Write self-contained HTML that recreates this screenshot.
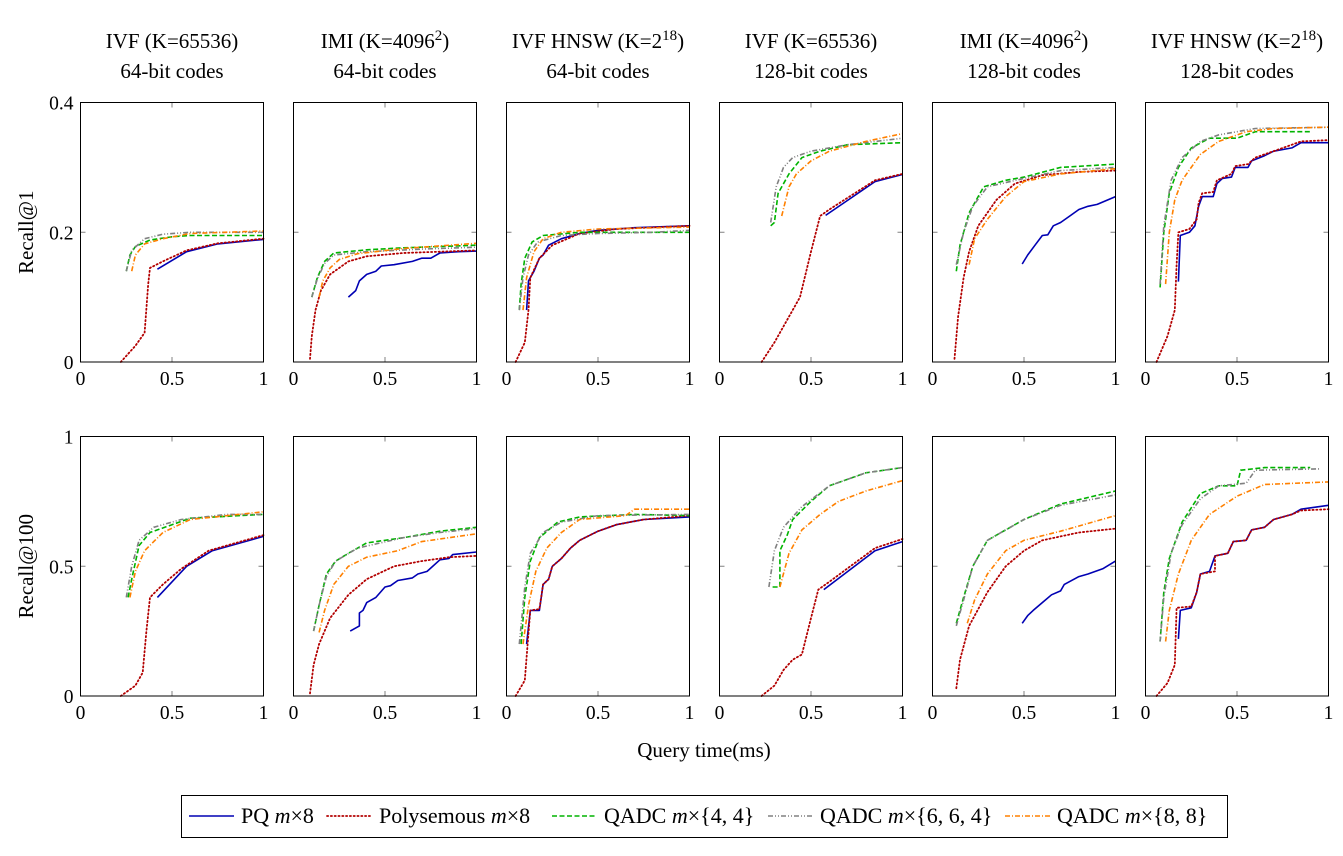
<!DOCTYPE html>
<html><head><meta charset="utf-8">
<style>
body{margin:0;background:#fff;}
svg text{font-family:"Liberation Serif",serif;fill:#000;}
</style></head>
<body>
<svg id="chart" width="1343" height="851" viewBox="0 0 1343 851" xmlns="http://www.w3.org/2000/svg"></svg>
<script>
const panelTitles1 = ["IVF (K=65536)","IMI (K=4096","IVF HNSW (K=2","IVF (K=65536)","IMI (K=4096","IVF HNSW (K=2"];
const panelTitleSups = ["","2","18","","2","18"];
const panelTitles2 = ["64-bit codes","64-bit codes","64-bit codes","128-bit codes","128-bit codes","128-bit codes"];
const seriesNames = ["PQ m×8","Polysemous m×8","QADC m×{4, 4}","QADC m×{6, 6, 4}","QADC m×{8, 8}"];
const xTicks = [0,0.5,1];
const xTickLabels = ["0","0.5","1"];
const yTicksTop = [0,0.2,0.4];
const yTickLabelsTop = ["0","0.2","0.4"];
const yTicksBot = [0,0.5,1];
const yTickLabelsBot = ["0","0.5","1"];

const pqTop = [
 [[0.42,0.143],[0.58,0.17],[0.75,0.182],[1,0.189]],
 [[0.3,0.1],[0.34,0.11],[0.36,0.125],[0.4,0.135],[0.45,0.14],[0.48,0.148],[0.55,0.15],[0.65,0.155],[0.7,0.16],[0.75,0.16],[0.8,0.168],[0.9,0.17],[1,0.171]],
 [[0.11,0.08],[0.12,0.125],[0.15,0.14],[0.18,0.16],[0.2,0.165],[0.23,0.18],[0.3,0.19],[0.4,0.198],[0.5,0.203],[0.7,0.207],[1,0.21]],
 [[0.58,0.226],[0.85,0.278],[1,0.289]],
 [[0.49,0.151],[0.52,0.165],[0.56,0.18],[0.6,0.195],[0.63,0.196],[0.66,0.21],[0.7,0.215],[0.75,0.225],[0.8,0.235],[0.85,0.24],[0.9,0.243],[1,0.255]],
 [[0.18,0.124],[0.19,0.195],[0.24,0.2],[0.27,0.21],[0.29,0.24],[0.31,0.255],[0.37,0.255],[0.39,0.275],[0.42,0.283],[0.47,0.285],[0.49,0.3],[0.56,0.3],[0.58,0.31],[0.65,0.318],[0.7,0.325],[0.8,0.33],[0.85,0.338],[1,0.338]]
];
const polyTop = [
 [[0.22,0],[0.3,0.025],[0.35,0.045],[0.37,0.12],[0.38,0.145],[0.45,0.155],[0.58,0.172],[0.75,0.183],[1,0.19]],
 [[0.09,0.005],[0.1,0.04],[0.12,0.08],[0.15,0.11],[0.2,0.135],[0.3,0.155],[0.4,0.163],[0.6,0.168],[0.8,0.17],[1,0.172]],
 [[0.05,0],[0.1,0.03],[0.12,0.08],[0.13,0.13],[0.18,0.16],[0.25,0.18],[0.4,0.198],[0.6,0.205],[1,0.21]],
 [[0.23,0],[0.3,0.03],[0.4,0.08],[0.44,0.1],[0.5,0.17],[0.55,0.225],[0.6,0.235],[0.85,0.28],[1,0.29]],
 [[0.12,0.005],[0.14,0.07],[0.17,0.13],[0.2,0.17],[0.25,0.21],[0.35,0.25],[0.45,0.275],[0.6,0.288],[0.8,0.293],[1,0.295]],
 [[0.06,0],[0.12,0.04],[0.16,0.08],[0.17,0.15],[0.18,0.2],[0.24,0.205],[0.28,0.22],[0.29,0.245],[0.31,0.26],[0.37,0.262],[0.39,0.28],[0.47,0.29],[0.49,0.302],[0.56,0.305],[0.6,0.315],[0.7,0.325],[0.8,0.335],[0.85,0.34],[1,0.342]]
];
const q44Top = [
 [[0.25,0.14],[0.27,0.165],[0.3,0.178],[0.38,0.188],[0.5,0.193],[0.6,0.195],[1,0.195]],
 [[0.1,0.1],[0.13,0.13],[0.17,0.155],[0.22,0.168],[0.4,0.173],[0.6,0.176],[1,0.18]],
 [[0.07,0.08],[0.08,0.12],[0.1,0.16],[0.14,0.185],[0.2,0.195],[0.4,0.2],[0.6,0.2],[1,0.2]],
 [[0.28,0.21],[0.3,0.215],[0.32,0.26],[0.38,0.29],[0.45,0.315],[0.55,0.325],[0.7,0.335],[1,0.338]],
 [[0.13,0.14],[0.15,0.18],[0.2,0.23],[0.28,0.27],[0.4,0.28],[0.5,0.285],[0.7,0.3],[1,0.305]],
 [[0.08,0.115],[0.1,0.2],[0.13,0.26],[0.18,0.3],[0.25,0.33],[0.35,0.345],[0.5,0.345],[0.6,0.355],[0.9,0.355]]
];
const q664Top = [
 [[0.25,0.14],[0.28,0.172],[0.35,0.19],[0.45,0.197],[0.6,0.2],[1,0.2]],
 [[0.1,0.1],[0.13,0.128],[0.17,0.152],[0.22,0.165],[0.4,0.17],[0.7,0.174],[1,0.177]],
 [[0.07,0.08],[0.09,0.13],[0.12,0.165],[0.17,0.185],[0.3,0.195],[0.5,0.198],[0.8,0.2],[1,0.203]],
 [[0.28,0.215],[0.31,0.27],[0.35,0.3],[0.4,0.315],[0.5,0.325],[0.7,0.335],[1,0.345]],
 [[0.13,0.15],[0.17,0.2],[0.22,0.24],[0.3,0.27],[0.5,0.283],[0.7,0.295],[1,0.3]],
 [[0.08,0.12],[0.1,0.21],[0.14,0.28],[0.2,0.315],[0.3,0.34],[0.4,0.35],[0.6,0.36],[1,0.362]]
];
const q88Top = [
 [[0.28,0.14],[0.3,0.165],[0.35,0.182],[0.45,0.19],[0.6,0.198],[1,0.202]],
 [[0.14,0.1],[0.16,0.125],[0.2,0.145],[0.25,0.158],[0.35,0.167],[0.6,0.175],[1,0.183]],
 [[0.09,0.08],[0.11,0.13],[0.15,0.17],[0.2,0.19],[0.3,0.2],[0.5,0.205],[1,0.208]],
 [[0.34,0.225],[0.38,0.27],[0.42,0.29],[0.5,0.31],[0.6,0.325],[0.8,0.34],[1,0.352]],
 [[0.2,0.15],[0.23,0.19],[0.3,0.22],[0.4,0.255],[0.5,0.278],[0.7,0.29],[1,0.298]],
 [[0.11,0.12],[0.13,0.2],[0.16,0.25],[0.2,0.28],[0.3,0.32],[0.4,0.34],[0.55,0.355],[0.7,0.36],[1,0.362]]
];
const pqBot = [
 [[0.42,0.38],[0.58,0.5],[0.72,0.56],[1,0.615]],
 [[0.31,0.25],[0.36,0.27],[0.36,0.32],[0.38,0.33],[0.4,0.36],[0.45,0.38],[0.5,0.42],[0.53,0.425],[0.57,0.445],[0.65,0.455],[0.68,0.47],[0.73,0.48],[0.8,0.525],[0.85,0.53],[0.87,0.545],[1,0.555]],
 [[0.11,0.2],[0.13,0.33],[0.18,0.33],[0.2,0.43],[0.23,0.45],[0.25,0.5],[0.3,0.53],[0.35,0.57],[0.4,0.6],[0.5,0.635],[0.6,0.66],[0.75,0.68],[1,0.69]],
 [[0.57,0.41],[0.85,0.56],[1,0.595]],
 [[0.49,0.28],[0.52,0.31],[0.55,0.33],[0.6,0.36],[0.65,0.39],[0.7,0.405],[0.72,0.43],[0.8,0.46],[0.85,0.47],[0.93,0.49],[1,0.52]],
 [[0.18,0.22],[0.19,0.33],[0.25,0.34],[0.28,0.4],[0.3,0.47],[0.35,0.48],[0.38,0.54],[0.45,0.55],[0.48,0.595],[0.55,0.6],[0.58,0.64],[0.65,0.65],[0.7,0.68],[0.8,0.7],[0.85,0.72],[1,0.735]]
];
const polyBot = [
 [[0.22,0],[0.3,0.04],[0.34,0.09],[0.36,0.25],[0.38,0.38],[0.45,0.43],[0.55,0.49],[0.7,0.56],[1,0.62]],
 [[0.09,0.01],[0.11,0.12],[0.14,0.2],[0.2,0.3],[0.3,0.39],[0.4,0.45],[0.55,0.5],[0.7,0.52],[0.85,0.535],[1,0.54]],
 [[0.05,0],[0.1,0.06],[0.11,0.15],[0.13,0.33],[0.18,0.335],[0.2,0.43],[0.23,0.45],[0.25,0.5],[0.3,0.53],[0.35,0.57],[0.4,0.6],[0.5,0.635],[0.6,0.66],[0.75,0.68],[1,0.695]],
 [[0.23,0],[0.3,0.04],[0.35,0.1],[0.4,0.14],[0.45,0.16],[0.5,0.3],[0.54,0.41],[0.6,0.44],[0.85,0.57],[1,0.605]],
 [[0.13,0.03],[0.15,0.14],[0.2,0.27],[0.3,0.4],[0.4,0.5],[0.5,0.56],[0.6,0.6],[0.8,0.63],[1,0.645]],
 [[0.06,0],[0.12,0.05],[0.16,0.12],[0.17,0.34],[0.25,0.345],[0.28,0.4],[0.3,0.47],[0.38,0.48],[0.38,0.54],[0.45,0.55],[0.48,0.595],[0.55,0.6],[0.58,0.64],[0.65,0.65],[0.7,0.68],[0.8,0.7],[0.85,0.715],[1,0.72]]
];
const q44Bot = [
 [[0.26,0.38],[0.28,0.45],[0.32,0.58],[0.38,0.63],[0.5,0.66],[0.6,0.685],[1,0.7]],
 [[0.11,0.25],[0.14,0.35],[0.18,0.47],[0.23,0.52],[0.3,0.55],[0.4,0.59],[0.6,0.61],[0.8,0.635],[1,0.65]],
 [[0.08,0.2],[0.1,0.38],[0.13,0.52],[0.18,0.61],[0.28,0.67],[0.4,0.69],[0.7,0.7],[1,0.695]],
 [[0.29,0.42],[0.33,0.42],[0.33,0.56],[0.37,0.62],[0.4,0.68],[0.5,0.75],[0.6,0.81],[0.8,0.86],[1,0.88]],
 [[0.13,0.28],[0.17,0.38],[0.22,0.5],[0.3,0.6],[0.5,0.68],[0.7,0.74],[1,0.79]],
 [[0.08,0.21],[0.1,0.4],[0.13,0.53],[0.2,0.67],[0.3,0.78],[0.4,0.81],[0.5,0.81],[0.52,0.87],[0.65,0.88],[0.9,0.88]]
];
const q664Bot = [
 [[0.25,0.38],[0.28,0.5],[0.32,0.6],[0.4,0.65],[0.55,0.68],[0.8,0.7],[1,0.7]],
 [[0.11,0.25],[0.14,0.35],[0.18,0.46],[0.23,0.52],[0.35,0.57],[0.6,0.61],[0.8,0.63],[1,0.645]],
 [[0.07,0.2],[0.1,0.42],[0.13,0.55],[0.2,0.63],[0.3,0.67],[0.5,0.695],[1,0.7]],
 [[0.27,0.42],[0.3,0.56],[0.35,0.65],[0.45,0.73],[0.6,0.81],[0.8,0.86],[1,0.88]],
 [[0.13,0.27],[0.17,0.37],[0.22,0.5],[0.3,0.6],[0.5,0.68],[0.7,0.735],[1,0.775]],
 [[0.08,0.21],[0.1,0.38],[0.14,0.55],[0.2,0.66],[0.3,0.76],[0.4,0.81],[0.55,0.82],[0.6,0.87],[0.95,0.875]]
];
const q88Bot = [
 [[0.27,0.38],[0.3,0.48],[0.35,0.56],[0.45,0.63],[0.6,0.68],[1,0.71]],
 [[0.14,0.245],[0.17,0.33],[0.22,0.43],[0.3,0.5],[0.4,0.535],[0.57,0.56],[0.7,0.595],[1,0.625]],
 [[0.09,0.2],[0.12,0.35],[0.16,0.48],[0.22,0.57],[0.3,0.63],[0.4,0.68],[0.65,0.695],[0.7,0.72],[1,0.72]],
 [[0.33,0.42],[0.38,0.55],[0.45,0.64],[0.55,0.7],[0.65,0.75],[0.8,0.79],[1,0.83]],
 [[0.19,0.28],[0.23,0.37],[0.3,0.47],[0.4,0.56],[0.5,0.6],[0.7,0.635],[1,0.695]],
 [[0.11,0.21],[0.13,0.33],[0.18,0.47],[0.25,0.6],[0.35,0.7],[0.5,0.77],[0.65,0.815],[1,0.825]]
];

const NS="http://www.w3.org/2000/svg";
const svg=document.getElementById('chart');
function mk(tag,attrs,parent){const e=document.createElementNS(NS,tag);for(const k in attrs)e.setAttribute(k,attrs[k]);(parent||svg).appendChild(e);return e;}
const styles=[
 {stroke:"#0000b3",dash:"",w:1.6},
 {stroke:"#b30000",dash:"1.2,2.6",w:1.8,cap:"round"},
 {stroke:"#00b300",dash:"5,2.5",w:1.6},
 {stroke:"#808080",dash:"5,2,1,2,1,2",w:1.6},
 {stroke:"#ff8000",dash:"5,2,1,2",w:1.6}
];
const PW=183, PH=259.5;
const lefts=[80.5,293.5,506.5,719.5,932.5,1145.5];
const rows=[
 {top:102.5,ymax:0.4,ticks:yTicksTop,labels:yTickLabelsTop,data:[pqTop,polyTop,q44Top,q664Top,q88Top],ylabel:"Recall@1",nm:"recall-at-1"},
 {top:436.5,ymax:1,ticks:yTicksBot,labels:yTickLabelsBot,data:[pqBot,polyBot,q44Bot,q664Bot,q88Bot],ylabel:"Recall@100",nm:"recall-at-100"}
];
const seriesKeys=["pq","polysemous","qadc-4-4","qadc-6-6-4","qadc-8-8"];
rows.forEach((r,ri)=>{
 lefts.forEach((L,pi)=>{
  const g=mk('g',{});
  
  
  const xs=v=>L+v*PW;
  const ys=v=>r.top+PH-(v/r.ymax)*PH;
  xTicks.forEach((t,i)=>{
   if(i>0&&i<xTicks.length-1){
    mk('line',{x1:xs(t),x2:xs(t),y1:r.top,y2:r.top+5,stroke:"#808080","stroke-width":1},g);
    mk('line',{x1:xs(t),x2:xs(t),y1:r.top+PH,y2:r.top+PH-5,stroke:"#808080","stroke-width":1},g);
   }
   const tx=mk('text',{x:xs(t),y:r.top+PH+23,"font-size":19.5,"text-anchor":"middle"},g);
   tx.textContent=xTickLabels[i];
   
   
  });
  r.ticks.forEach((t,i)=>{
   if(i>0&&i<r.ticks.length-1){
    mk('line',{x1:L,x2:L+5,y1:ys(t),y2:ys(t),stroke:"#808080","stroke-width":1},g);
    mk('line',{x1:L+PW,x2:L+PW-5,y1:ys(t),y2:ys(t),stroke:"#808080","stroke-width":1},g);
   }
   if(pi===0){
    const ty=mk('text',{x:L-7,y:ys(t)+7,"font-size":19.5,"text-anchor":"end"},g);
    ty.textContent=r.labels[i];
    
    
   }
  });
  r.data.forEach((ser,si)=>{
   const pts=ser[pi];
   const st=styles[si];
   const p=mk('polyline',{points:pts.map(q=>xs(q[0]).toFixed(1)+','+ys(q[1]).toFixed(1)).join(' '),fill:"none",stroke:st.stroke,"stroke-width":st.w,"stroke-dasharray":st.dash,"stroke-linecap":st.cap||"butt","stroke-linejoin":"round"},g);
   
   
  });
  const fr=mk('rect',{x:L,y:r.top,width:PW,height:PH,fill:"none",stroke:"#000","stroke-width":1},g);
  
  
  if(ri===0){
   const t1=mk('text',{x:L+PW/2,y:48,"font-size":21,"text-anchor":"middle"},g);
   t1.appendChild(document.createTextNode(panelTitles1[pi]));
   if(panelTitleSups[pi]){
    const s=mk('tspan',{dy:-8,"font-size":15},t1);s.textContent=panelTitleSups[pi];
    const c=mk('tspan',{dy:8},t1);c.textContent=')';
   }
   
   
   const t2=mk('text',{x:L+PW/2,y:78,"font-size":21,"text-anchor":"middle"},g);
   t2.textContent=panelTitles2[pi];
   
   
  }
 });
 const yl=mk('text',{x:0,y:0,"font-size":21,"text-anchor":"middle",transform:`translate(33,${r.top+PH/2}) rotate(-90)`});
 yl.textContent=r.ylabel;
 
 
});
const xl=mk('text',{x:704,y:757,"font-size":21,"text-anchor":"middle"});
xl.textContent="Query time(ms)";


const lg=mk('g',{});


mk('rect',{x:181.5,y:795.5,width:1046,height:42,fill:"#fff",stroke:"#000","stroke-width":1},lg);
const legX=[189,327,552,768,1005];
const legT=[241,379,604,820,1057];
seriesNames.forEach((n,i)=>{
 const st=styles[i];
 const e=mk('g',{},lg);
 
 
 mk('line',{x1:legX[i],x2:legX[i]+45,y1:816,y2:816,stroke:st.stroke,"stroke-width":st.w,"stroke-dasharray":st.dash,"stroke-linecap":st.cap||"butt"},e);
 const t=mk('text',{x:legT[i],y:823,"font-size":22},e);
 const k=n.lastIndexOf(' m');
 t.appendChild(document.createTextNode(n.slice(0,k+1)));
 const it=mk('tspan',{"font-style":"italic"},t);it.textContent='m';
 t.appendChild(document.createTextNode(n.slice(k+2)));
});
</script>
</body></html>
